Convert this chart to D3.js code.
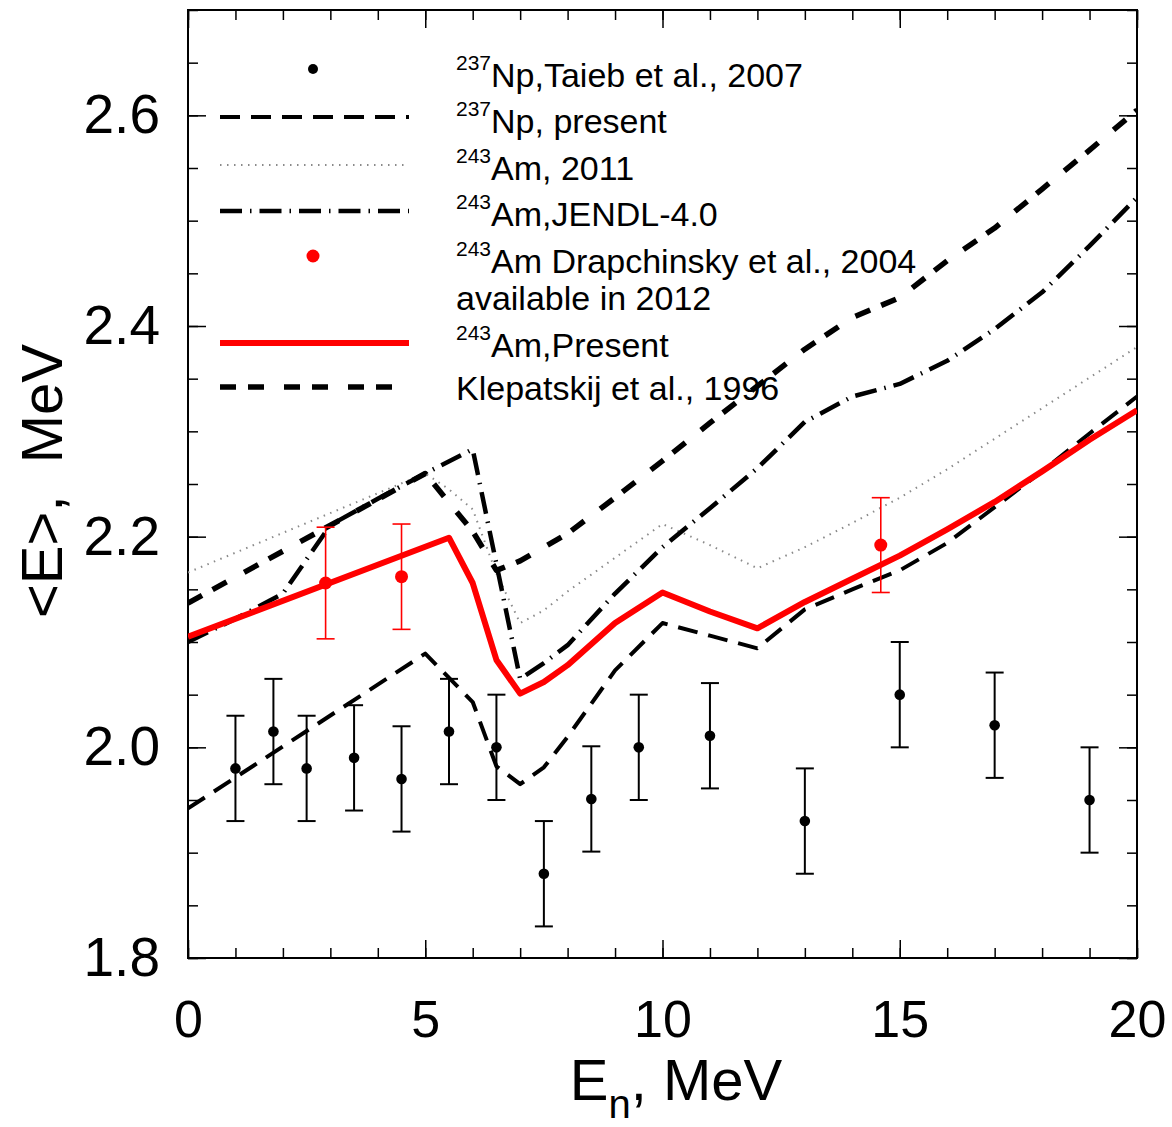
<!DOCTYPE html>
<html>
<head>
<meta charset="utf-8">
<script src="https://cdn.jsdelivr.net/npm/d3@7"></script>
<style>
  body { margin: 0; background: #fff; }
  text { font-family: "Liberation Sans", Arial, sans-serif; fill: #000; }
</style>
</head>
<body>
<svg id="chart" width="1172" height="1127"></svg>
<script>
// Taieb et al. 2007, 237Np
const taiebE = [1.0, 1.8, 2.5, 3.5, 4.5, 5.5, 6.5, 7.5, 8.5, 9.5, 11, 13, 15, 17, 19];
const taiebVal = [1.980, 2.015, 1.980, 1.990, 1.970, 2.015, 2.000, 1.880, 1.951, 2.000, 2.011, 1.930, 2.050, 2.021, 1.950];
const taiebErr = [0.05, 0.05, 0.05, 0.05, 0.05, 0.05, 0.05, 0.05, 0.05, 0.05, 0.05, 0.05, 0.05, 0.05, 0.05];

// Drapchinsky et al. 2004, 243Am
const drapE = [2.9, 4.5, 14.6];
const drapVal = [2.156, 2.162, 2.192];
const drapErr = [0.053, 0.05, 0.045];

// 237Np, present
const npE = [0, 5, 6, 6.5, 7, 7.5, 8, 9, 10, 11, 12, 13, 14, 15, 16, 17, 18, 19, 20];
const npVal = [1.942, 2.089, 2.043, 1.982, 1.965, 1.981, 2.010, 2.073, 2.118, 2.106, 2.094, 2.131, 2.150, 2.168, 2.194, 2.228, 2.262, 2.298, 2.333];

// 243Am, 2011
const am2011E = [0, 5, 5.5, 6, 6.5, 7, 7.5, 8, 9, 10, 11, 12, 13, 14, 15, 16, 17, 18, 19, 20];
const am2011Val = [2.166, 2.260, 2.245, 2.226, 2.165, 2.118, 2.130, 2.148, 2.180, 2.212, 2.192, 2.170, 2.190, 2.213, 2.237, 2.264, 2.293, 2.322, 2.351, 2.380];

// 243Am, JENDL-4.0
const jendlE = [0, 1, 2, 3, 4, 5, 6, 7, 7.5, 8, 9, 10, 11, 12, 13, 14, 15, 16, 17, 18, 19, 20];
const jendlVal = [2.100, 2.122, 2.146, 2.211, 2.236, 2.260, 2.283, 2.065, 2.080, 2.097, 2.146, 2.190, 2.227, 2.265, 2.309, 2.333, 2.345, 2.367, 2.397, 2.432, 2.476, 2.522];

// 243Am, present
const presentE = [0, 5.5, 6, 6.5, 7, 7.5, 8, 9, 10, 11, 12, 13, 14, 15, 16, 17, 18, 19, 20];
const presentVal = [2.105, 2.199, 2.156, 2.083, 2.051, 2.062, 2.078, 2.118, 2.147, 2.129, 2.113, 2.138, 2.160, 2.182, 2.207, 2.233, 2.262, 2.292, 2.320];

// Klepatskij et al. 1996
const klepE = [0, 5, 6, 6.5, 7, 8, 9, 10, 11, 12, 13, 14, 15, 16, 17, 18, 19, 20];
const klepVal = [2.137, 2.260, 2.205, 2.168, 2.177, 2.203, 2.237, 2.272, 2.308, 2.343, 2.378, 2.408, 2.427, 2.462, 2.493, 2.530, 2.567, 2.605];

const xMajor = [0, 5, 10, 15, 20];
const yMajor = [1.8, 2.0, 2.2, 2.4, 2.6];

const svg = d3.select('#chart');
const plotLeft = 188, plotRight = 1137, plotTop = 10, plotBottom = 958;

const x = d3.scaleLinear().domain([0, 20]).range([plotLeft, plotRight]);
const y = d3.scaleLinear().domain([1.8, 2.7]).range([plotBottom, plotTop]);

const xMinor = d3.range(0, 21, 1);
const yMinor = d3.range(1.8, 2.7001, 0.05);

// ticks, all pointing inward
function tickAxis(axis, pos, values, size, fmt, pad) {
  const g = svg.append('g').attr('transform', pos)
    .call(axis.tickValues(values).tickSize(size).tickPadding(pad || 0).tickFormat(fmt || ''));
  g.select('.domain').remove();
  g.selectAll('line').attr('stroke', '#000').attr('stroke-width', 1.5);
  return g;
}

tickAxis(d3.axisLeft(y), `translate(${plotLeft},0)`, yMinor, -10);
tickAxis(d3.axisRight(y), `translate(${plotRight},0)`, yMinor, -10);
tickAxis(d3.axisBottom(x), `translate(0,${plotBottom})`, xMinor, -10);
tickAxis(d3.axisTop(x), `translate(0,${plotTop})`, xMinor, -10);
tickAxis(d3.axisRight(y), `translate(${plotRight},0)`, yMajor, -18);
tickAxis(d3.axisTop(x), `translate(0,${plotTop})`, xMajor, -18);

const yAx = tickAxis(d3.axisLeft(y), `translate(${plotLeft},0)`, yMajor, -18, d3.format('.1f'), 28);
yAx.selectAll('text').attr('font-size', 55).attr('font-family', '"Liberation Sans", Arial, sans-serif');

const xAx = tickAxis(d3.axisBottom(x), `translate(0,${plotBottom})`, xMajor, -18, d3.format('d'), 42);
xAx.selectAll('text').attr('font-size', 52).attr('font-family', '"Liberation Sans", Arial, sans-serif');

svg.append('rect')
  .attr('x', plotLeft).attr('y', plotTop)
  .attr('width', plotRight - plotLeft).attr('height', plotBottom - plotTop)
  .attr('fill', 'none').attr('stroke', '#000').attr('stroke-width', 2);

// axis titles
const xt = svg.append('text').attr('x', 676).attr('y', 1100)
  .attr('text-anchor', 'middle').attr('font-size', 58);
xt.append('tspan').text('E');
xt.append('tspan').attr('font-size', 40).attr('dy', 18).text('n');
xt.append('tspan').attr('dy', -18).text(', MeV');

svg.append('text')
  .attr('transform', 'translate(62,481) rotate(-90)')
  .attr('text-anchor', 'middle').attr('font-size', 58)
  .attr('xml:space', 'preserve')
  .text('<E>,  MeV');

// curves
svg.append('clipPath').attr('id', 'plot-clip')
  .append('rect').attr('x', plotLeft).attr('y', plotTop)
  .attr('width', plotRight - plotLeft).attr('height', plotBottom - plotTop);

const plot = svg.append('g').attr('clip-path', 'url(#plot-clip)');

const line = d3.line().x(d => x(d[0])).y(d => y(d[1]));

const styles = {
  np: { stroke: '#000', width: 4, dash: '20,11' },
  am2011: { stroke: '#8a8a8a', width: 2, dash: '1.5,5.5' },
  jendl: { stroke: '#000', width: 4.5, dash: '22,8,1.5,8' },
  present: { stroke: '#ff0000', width: 6, dash: null },
  klep: { stroke: '#000', width: 5.5, dash: '16,12,16,20' }
};

function drawCurve(g, pts, s) {
  g.append('path')
    .datum(pts)
    .attr('d', line)
    .attr('fill', 'none')
    .attr('stroke', s.stroke)
    .attr('stroke-width', s.width)
    .attr('stroke-dasharray', s.dash)
    .attr('stroke-linejoin', 'round');
}

drawCurve(plot, am2011E.map((e, i) => [e, am2011Val[i]]), styles.am2011);
drawCurve(plot, npE.map((e, i) => [e, npVal[i]]), styles.np);
drawCurve(plot, klepE.map((e, i) => [e, klepVal[i]]), styles.klep);
drawCurve(plot, jendlE.map((e, i) => [e, jendlVal[i]]), styles.jendl);
drawCurve(plot, presentE.map((e, i) => [e, presentVal[i]]), styles.present);

// points with error bars
function drawPoints(E, V, err, color, r, w) {
  const g = plot.append('g');
  E.forEach((e, i) => {
    const cx = x(e);
    const y1 = y(V[i] + err[i]), y2 = y(V[i] - err[i]);
    g.append('line').attr('x1', cx).attr('x2', cx).attr('y1', y1).attr('y2', y2)
      .attr('stroke', color).attr('stroke-width', w);
    [y1, y2].forEach(yy => {
      g.append('line').attr('x1', cx - 9).attr('x2', cx + 9).attr('y1', yy).attr('y2', yy)
        .attr('stroke', color).attr('stroke-width', w);
    });
    g.append('circle').attr('cx', cx).attr('cy', y(V[i])).attr('r', r).attr('fill', color);
  });
}

drawPoints(taiebE, taiebVal, taiebErr, '#000', 5.3, 2);
drawPoints(drapE, drapVal, drapErr, '#ff0000', 6.5, 1.6);

// legend
const legend = svg.append('g');
const lx1 = 220, lx2 = 409, tx = 456;

function legendText(yb, sup, rest) {
  const t = legend.append('text').attr('x', tx).attr('y', yb).attr('font-size', 34);
  if (sup) {
    t.append('tspan').attr('font-size', 21).attr('dy', -17).text(sup);
    t.append('tspan').attr('dy', 17).text(rest);
  } else {
    t.text(rest);
  }
}

function legendLine(yy, s) {
  legend.append('line').attr('x1', lx1).attr('x2', lx2).attr('y1', yy).attr('y2', yy)
    .attr('stroke', s.stroke).attr('stroke-width', s.width).attr('stroke-dasharray', s.dash);
}

legend.append('circle').attr('cx', 313).attr('cy', 69).attr('r', 5).attr('fill', '#000');
legendText(87, '237', 'Np,Taieb et al., 2007');

legendLine(117, styles.np);
legendText(133, '237', 'Np, present');

legendLine(165, styles.am2011);
legendText(180, '243', 'Am, 2011');

legendLine(211, styles.jendl);
legendText(226, '243', 'Am,JENDL-4.0');

legend.append('circle').attr('cx', 313).attr('cy', 256).attr('r', 6.5).attr('fill', '#ff0000');
legendText(273, '243', 'Am Drapchinsky et al., 2004');
legendText(310, null, 'available in 2012');

legendLine(343, styles.present);
legendText(357, '243', 'Am,Present');

legendLine(387, styles.klep);
legendText(400, null, 'Klepatskij et al., 1996');
</script>
</body>
</html>
